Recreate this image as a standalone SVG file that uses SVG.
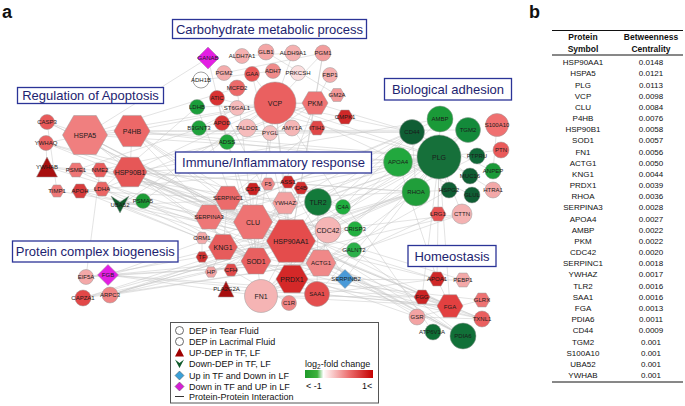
<svg xmlns="http://www.w3.org/2000/svg" xmlns:xlink="http://www.w3.org/1999/xlink" width="685" height="406" viewBox="0 0 685 406">
<defs>
<polygon id="hx" points="-1,0 -0.5,-0.866 0.5,-0.866 1,0 0.5,0.866 -0.5,0.866" vector-effect="non-scaling-stroke"/>
<linearGradient id="fc" x1="0" y1="0" x2="1" y2="0">
<stop offset="0" stop-color="#1f9a2a"/>
<stop offset="0.18" stop-color="#3cb13c"/>
<stop offset="0.27" stop-color="#ffffff"/>
<stop offset="0.33" stop-color="#fde6e6"/>
<stop offset="0.65" stop-color="#ec6d6d"/>
<stop offset="1" stop-color="#c40000"/>
</linearGradient>
</defs>
<style>
.e line{stroke:#c6c6c6;stroke-width:0.5}
.n{stroke:#9a9a9a;stroke-width:0.5}
text{font-family:"Liberation Sans",Arial,sans-serif}
.l{font-size:6px;fill:#1a1a1a;text-anchor:middle}
.b{font-size:7px}
.cat rect{fill:#fff;stroke:#2b3497;stroke-width:1.3}
.cat text{font-size:13px;fill:#1d2470;text-anchor:middle}
.leg text{font-size:9px;fill:#111}
.tb text{font-size:8px;fill:#111;text-anchor:middle}
.tb .h{font-size:8.5px;font-weight:bold}
.tb line{stroke:#111;stroke-width:1}
</style>
<rect width="685" height="406" fill="#fff"/>
<text x="2" y="18" font-size="18" font-weight="bold" fill="#111">a</text>
<text x="529" y="18" font-size="18" font-weight="bold" fill="#111">b</text>

<g id="edges" class="e">
<line x1="291" y1="241" x2="85" y2="135"/><line x1="291" y1="241" x2="130" y2="172"/><line x1="291" y1="241" x2="132" y2="131"/><line x1="291" y1="241" x2="275" y2="103"/><line x1="291" y1="241" x2="315" y2="103"/><line x1="291" y1="241" x2="253" y2="222"/><line x1="291" y1="241" x2="256" y2="261"/><line x1="291" y1="241" x2="292" y2="279"/><line x1="291" y1="241" x2="321" y2="263"/><line x1="291" y1="241" x2="328" y2="230"/><line x1="291" y1="241" x2="318" y2="202"/><line x1="291" y1="241" x2="285" y2="203"/><line x1="291" y1="241" x2="47" y2="167"/><line x1="291" y1="241" x2="46" y2="143"/><line x1="291" y1="241" x2="439" y2="157"/><line x1="291" y1="241" x2="416" y2="192"/><line x1="291" y1="241" x2="412" y2="132"/><line x1="291" y1="241" x2="450" y2="306"/><line x1="291" y1="241" x2="463" y2="336"/><line x1="291" y1="241" x2="261" y2="296"/><line x1="291" y1="241" x2="223" y2="247"/><line x1="291" y1="241" x2="47" y2="122"/><line x1="291" y1="241" x2="120" y2="205"/><line x1="291" y1="241" x2="482" y2="319"/><line x1="291" y1="241" x2="417" y2="317"/><line x1="291" y1="241" x2="468" y2="130"/><line x1="291" y1="241" x2="110" y2="295"/><line x1="291" y1="241" x2="86" y2="277"/><line x1="291" y1="241" x2="217" y2="98"/><line x1="291" y1="241" x2="100" y2="170"/>
<line x1="85" y1="135" x2="132" y2="131"/><line x1="85" y1="135" x2="130" y2="172"/><line x1="85" y1="135" x2="275" y2="103"/><line x1="85" y1="135" x2="253" y2="222"/><line x1="85" y1="135" x2="463" y2="336"/><line x1="85" y1="135" x2="412" y2="132"/><line x1="85" y1="135" x2="439" y2="157"/><line x1="85" y1="135" x2="47" y2="122"/><line x1="85" y1="135" x2="46" y2="143"/><line x1="85" y1="135" x2="237" y2="88"/><line x1="85" y1="135" x2="208" y2="58"/><line x1="85" y1="135" x2="256" y2="261"/>
<line x1="132" y1="131" x2="130" y2="172"/><line x1="132" y1="131" x2="275" y2="103"/><line x1="132" y1="131" x2="463" y2="336"/><line x1="132" y1="131" x2="398" y2="162"/><line x1="132" y1="131" x2="468" y2="130"/><line x1="130" y1="172" x2="275" y2="103"/><line x1="130" y1="172" x2="253" y2="222"/><line x1="130" y1="172" x2="440" y2="119"/><line x1="130" y1="172" x2="463" y2="336"/><line x1="130" y1="172" x2="439" y2="157"/>
<line x1="439" y1="157" x2="261" y2="296"/><line x1="439" y1="157" x2="223" y2="247"/><line x1="439" y1="157" x2="228" y2="198"/><line x1="439" y1="157" x2="450" y2="306"/><line x1="439" y1="157" x2="422" y2="297"/><line x1="439" y1="157" x2="398" y2="162"/><line x1="439" y1="157" x2="440" y2="119"/><line x1="439" y1="157" x2="437" y2="279"/><line x1="439" y1="157" x2="209" y2="217"/><line x1="439" y1="157" x2="449" y2="190"/><line x1="439" y1="157" x2="412" y2="132"/><line x1="439" y1="157" x2="416" y2="192"/><line x1="439" y1="157" x2="317" y2="294"/><line x1="439" y1="157" x2="253" y2="222"/><line x1="439" y1="157" x2="345" y2="279"/><line x1="439" y1="157" x2="268" y2="184"/><line x1="439" y1="157" x2="211" y2="272"/><line x1="439" y1="157" x2="438" y2="214"/><line x1="439" y1="157" x2="493" y2="190"/><line x1="439" y1="157" x2="501" y2="150"/><line x1="439" y1="157" x2="468" y2="130"/><line x1="439" y1="157" x2="462" y2="214"/><line x1="439" y1="157" x2="108" y2="275"/><line x1="439" y1="157" x2="80" y2="191"/>
<line x1="275" y1="103" x2="315" y2="103"/><line x1="275" y1="103" x2="120" y2="205"/><line x1="275" y1="103" x2="143" y2="201"/><line x1="275" y1="103" x2="76" y2="170"/><line x1="275" y1="103" x2="293" y2="53"/><line x1="275" y1="103" x2="323" y2="53"/><line x1="275" y1="103" x2="253" y2="222"/><line x1="275" y1="103" x2="256" y2="261"/><line x1="275" y1="103" x2="285" y2="203"/><line x1="275" y1="103" x2="472" y2="195"/><line x1="275" y1="103" x2="433" y2="332"/>
<line x1="253" y1="222" x2="209" y2="217"/><line x1="253" y1="222" x2="223" y2="247"/><line x1="253" y1="222" x2="256" y2="261"/><line x1="253" y1="222" x2="398" y2="162"/><line x1="253" y1="222" x2="437" y2="279"/><line x1="253" y1="222" x2="412" y2="132"/><line x1="253" y1="222" x2="261" y2="296"/><line x1="253" y1="222" x2="317" y2="294"/><line x1="253" y1="222" x2="253" y2="189"/><line x1="253" y1="222" x2="222" y2="123"/>
<line x1="256" y1="261" x2="292" y2="279"/><line x1="256" y1="261" x2="83" y2="298"/><line x1="256" y1="261" x2="417" y2="317"/><line x1="256" y1="261" x2="482" y2="319"/><line x1="256" y1="261" x2="86" y2="277"/>
<line x1="292" y1="279" x2="482" y2="319"/><line x1="292" y1="279" x2="482" y2="300"/><line x1="292" y1="279" x2="463" y2="280"/>
<line x1="321" y1="263" x2="328" y2="230"/><line x1="321" y1="263" x2="110" y2="295"/><line x1="321" y1="263" x2="83" y2="298"/><line x1="321" y1="263" x2="462" y2="214"/><line x1="321" y1="263" x2="416" y2="192"/><line x1="321" y1="263" x2="108" y2="275"/>
<line x1="328" y1="230" x2="416" y2="192"/><line x1="328" y1="230" x2="462" y2="214"/><line x1="328" y1="230" x2="110" y2="295"/><line x1="328" y1="230" x2="477" y2="156"/>
<line x1="416" y1="192" x2="412" y2="132"/><line x1="416" y1="192" x2="449" y2="190"/><line x1="416" y1="192" x2="110" y2="295"/><line x1="416" y1="192" x2="83" y2="298"/>
<line x1="261" y1="296" x2="412" y2="132"/><line x1="261" y1="296" x2="450" y2="306"/><line x1="261" y1="296" x2="108" y2="275"/><line x1="261" y1="296" x2="422" y2="297"/><line x1="261" y1="296" x2="449" y2="190"/><line x1="261" y1="296" x2="468" y2="130"/><line x1="261" y1="296" x2="438" y2="214"/>
<line x1="450" y1="306" x2="422" y2="297"/><line x1="450" y1="306" x2="108" y2="275"/><line x1="450" y1="306" x2="437" y2="279"/><line x1="108" y1="275" x2="422" y2="297"/>
<line x1="223" y1="247" x2="209" y2="217"/><line x1="223" y1="247" x2="228" y2="198"/><line x1="223" y1="247" x2="211" y2="272"/><line x1="223" y1="247" x2="202" y2="238"/>
<line x1="228" y1="198" x2="209" y2="217"/><line x1="228" y1="198" x2="268" y2="184"/><line x1="228" y1="198" x2="450" y2="306"/><line x1="228" y1="198" x2="317" y2="128"/>
<line x1="398" y1="162" x2="437" y2="279"/><line x1="398" y1="162" x2="440" y2="119"/><line x1="440" y1="119" x2="209" y2="217"/>
<line x1="318" y1="202" x2="412" y2="132"/><line x1="318" y1="202" x2="317" y2="294"/><line x1="318" y1="202" x2="343" y2="207"/><line x1="318" y1="202" x2="355" y2="229"/>
<line x1="285" y1="203" x2="47" y2="167"/><line x1="285" y1="203" x2="46" y2="143"/><line x1="47" y1="167" x2="46" y2="143"/>
<line x1="202" y1="257" x2="211" y2="272"/><line x1="202" y1="257" x2="202" y2="238"/><line x1="343" y1="207" x2="301" y2="188"/><line x1="288" y1="182" x2="345" y2="279"/>
<line x1="417" y1="317" x2="482" y2="319"/><line x1="417" y1="317" x2="482" y2="300"/>
<line x1="315" y1="103" x2="102" y2="189"/><line x1="315" y1="103" x2="197" y2="107"/><line x1="315" y1="103" x2="323" y2="53"/><line x1="315" y1="103" x2="247" y2="128"/><line x1="315" y1="103" x2="270" y2="133"/><line x1="315" y1="103" x2="330" y2="75"/>
<line x1="102" y1="189" x2="197" y2="107"/><line x1="102" y1="189" x2="482" y2="319"/><line x1="217" y1="98" x2="227" y2="142"/><line x1="242" y1="56" x2="293" y2="53"/><line x1="201" y1="80" x2="273" y2="71"/><line x1="224" y1="73" x2="323" y2="53"/>
<line x1="493" y1="171" x2="412" y2="132"/><line x1="470" y1="176" x2="412" y2="132"/><line x1="497" y1="125" x2="493" y2="171"/><line x1="86" y1="277" x2="100" y2="170"/><line x1="354" y1="250" x2="463" y2="336"/><line x1="199" y1="128" x2="237" y2="108"/><line x1="292" y1="128" x2="252" y2="74"/>
<line x1="317" y1="294" x2="437" y2="279"/><line x1="317" y1="294" x2="450" y2="306"/><line x1="231" y1="270" x2="301" y2="188"/><line x1="289" y1="303" x2="231" y2="270"/><line x1="226" y1="290" x2="317" y2="294"/>
<line x1="345" y1="117" x2="100" y2="170"/><line x1="57" y1="191" x2="47" y2="122"/><line x1="80" y1="191" x2="437" y2="279"/><line x1="76" y1="170" x2="143" y2="201"/><line x1="337" y1="95" x2="266" y2="52"/><line x1="100" y1="170" x2="463" y2="280"/>
<line x1="130" y1="172" x2="321" y2="263"/><line x1="130" y1="172" x2="256" y2="261"/><line x1="130" y1="172" x2="416" y2="192"/><line x1="132" y1="131" x2="253" y2="222"/><line x1="132" y1="131" x2="256" y2="261"/><line x1="132" y1="131" x2="412" y2="132"/><line x1="132" y1="131" x2="439" y2="157"/>
<line x1="143" y1="201" x2="256" y2="261"/><line x1="143" y1="201" x2="291" y2="241"/><line x1="120" y1="205" x2="256" y2="261"/><line x1="120" y1="205" x2="321" y2="263"/><line x1="120" y1="205" x2="416" y2="192"/><line x1="102" y1="189" x2="256" y2="261"/><line x1="100" y1="170" x2="328" y2="230"/>
<line x1="80" y1="191" x2="223" y2="247"/><line x1="80" y1="191" x2="228" y2="198"/><line x1="57" y1="191" x2="253" y2="222"/><line x1="47" y1="122" x2="253" y2="222"/><line x1="46" y1="143" x2="328" y2="230"/><line x1="47" y1="167" x2="416" y2="192"/>
<line x1="86" y1="277" x2="321" y2="263"/><line x1="108" y1="275" x2="223" y2="247"/><line x1="110" y1="295" x2="462" y2="214"/><line x1="83" y1="298" x2="328" y2="230"/>
<line x1="275" y1="103" x2="412" y2="132"/><line x1="275" y1="103" x2="439" y2="157"/><line x1="315" y1="103" x2="412" y2="132"/><line x1="315" y1="103" x2="256" y2="261"/><line x1="217" y1="98" x2="439" y2="157"/><line x1="237" y1="88" x2="253" y2="222"/><line x1="252" y1="74" x2="291" y2="241"/><line x1="323" y1="53" x2="291" y2="241"/><line x1="208" y1="58" x2="256" y2="261"/><line x1="197" y1="107" x2="256" y2="261"/>
<line x1="398" y1="162" x2="261" y2="296"/><line x1="412" y1="132" x2="209" y2="217"/><line x1="416" y1="192" x2="223" y2="247"/><line x1="450" y1="306" x2="223" y2="247"/><line x1="463" y1="336" x2="253" y2="222"/><line x1="482" y1="319" x2="130" y2="172"/>
</g>

<g id="categories" class="cat">
<g id="cat-carb"><rect x="172.5" y="19.5" width="194" height="19"/><text x="269.5" y="33.5">Carbohydrate metabolic process</text></g>
<g id="cat-apop"><rect x="17.5" y="87.5" width="146" height="16"/><text x="90.5" y="100">Regulation of Apoptosis</text></g>
<g id="cat-adh"><rect x="384.5" y="78.5" width="127" height="21.5"/><text x="448" y="94">Biological adhesion</text></g>
<g id="cat-imm"><rect x="175.5" y="152" width="196" height="21"/><text x="273.5" y="167">Immune/Inflammatory response</text></g>
<g id="cat-cplx"><rect x="12.5" y="241" width="165.5" height="21"/><text x="95.3" y="256">Protein complex biogenesis</text></g>
<g id="cat-homeo"><rect x="408" y="245.5" width="88" height="21"/><text x="452" y="260.5">Homeostasis</text></g>
</g>

<g id="nodes">
<g id="n-GANAB"><polygon class="n" points="208,47 219,58 208,69 197,58" fill="#e31fe3"/><text class="l" x="208" y="60">GANAB</text></g>
<g id="n-ALDH7A1"><circle class="n" cx="242" cy="56" r="7.5" fill="#f5b0b0"/><text class="l" x="242" y="58">ALDH7A1</text></g>
<g id="n-GLB1"><circle class="n" cx="266" cy="52" r="8" fill="#f4a6a6"/><text class="l" x="266" y="54">GLB1</text></g>
<g id="n-ALDH9A1"><circle class="n" cx="293" cy="53" r="8" fill="#f5b0b0"/><text class="l" x="293" y="55">ALDH9A1</text></g>
<g id="n-PGM1"><circle class="n" cx="323" cy="53" r="8" fill="#f29c9c"/><text class="l" x="323" y="55">PGM1</text></g>
<g id="n-PGM2"><circle class="n" cx="224" cy="73" r="7.5" fill="#f4acac"/><text class="l" x="224" y="75">PGM2</text></g>
<g id="n-GAA"><circle class="n" cx="252" cy="74" r="7.5" fill="#e85555"/><text class="l" x="252" y="76">GAA</text></g>
<g id="n-ADH7"><circle class="n" cx="273" cy="71" r="7.5" fill="#ef8a8a"/><text class="l" x="273" y="73">ADH7</text></g>
<g id="n-PRKCSH"><circle class="n" cx="298" cy="73" r="7.5" fill="#fbdede"/><text class="l" x="298" y="75">PRKCSH</text></g>
<g id="n-FBP1"><circle class="n" cx="330" cy="75" r="7.5" fill="#f5b0b0"/><text class="l" x="330" y="77">FBP1</text></g>
<g id="n-ADH1B"><circle cx="201" cy="80" r="8" fill="#fff" stroke="#888" stroke-width="0.8"/><text class="l" x="201" y="82">ADH1B</text></g>
<g id="n-MCFD2"><circle class="n" cx="237" cy="88" r="8" fill="#ec6a6a"/><text class="l" x="237" y="90">MCFD2</text></g>
<g id="n-VCP"><circle class="n" cx="275" cy="103" r="21" fill="#ea6060"/><text class="l b" x="275" y="105.5">VCP</text></g>
<g id="n-PKM"><use href="#hx" class="n" transform="translate(315 103) scale(13)" fill="#ef7373"/><text class="l b" x="315" y="105.5">PKM</text></g>
<g id="n-GM2A"><use href="#hx" class="n" transform="translate(337 95) scale(7.5)" fill="#f29898"/><text class="l" x="337" y="97">GM2A</text></g>
<g id="n-ATIC"><circle class="n" cx="217" cy="98" r="7.5" fill="#d93232"/><text class="l" x="217" y="100">ATIC</text></g>
<g id="n-LDHB"><circle class="n" cx="197" cy="107" r="7.5" fill="#1a9e3a"/><text class="l" x="197" y="109">LDHB</text></g>
<g id="n-ST6GAL1"><circle class="n" cx="237" cy="108" r="7.5" fill="#f6bcbc"/><text class="l" x="237" y="110">ST6GAL1</text></g>
<g id="n-CMPK1"><use href="#hx" class="n" transform="translate(345 117) scale(8)" fill="#cf2828"/><text class="l" x="345" y="119">CMPK1</text></g>
<g id="n-APOD"><circle class="n" cx="222" cy="123" r="7.5" fill="#d83535"/><text class="l" x="222" y="125">APOD</text></g>
<g id="n-B3GNT3"><circle class="n" cx="199" cy="128" r="7.5" fill="#1ea23c"/><text class="l" x="199" y="130">B3GNT3</text></g>
<g id="n-TALDO1"><circle class="n" cx="247" cy="128" r="9" fill="#f6bcbc"/><text class="l" x="247" y="130">TALDO1</text></g>
<g id="n-PYGL"><circle class="n" cx="270" cy="133" r="7.5" fill="#f6c2c2"/><text class="l" x="270" y="135">PYGL</text></g>
<g id="n-AMY1A"><circle class="n" cx="292" cy="128" r="8" fill="#f5b6b6"/><text class="l" x="292" y="130">AMY1A</text></g>
<g id="n-ITIH"><use href="#hx" class="n" transform="translate(317 128) scale(8)" fill="#e04848"/><text class="l" x="317" y="130">ITIH1</text></g>
<g id="n-ADSS"><circle class="n" cx="227" cy="142" r="7.5" fill="#1fa83c"/><text class="l" x="227" y="144">ADSS</text></g>

<g id="n-CASP3"><circle class="n" cx="47" cy="122" r="7.5" fill="#e85a5a"/><text class="l" x="47" y="124">CASP3</text></g>
<g id="n-HSPA5"><use href="#hx" class="n" transform="translate(85 135) scale(22.5)" fill="#f07f7f"/><text class="l b" x="85" y="137.5">HSPA5</text></g>
<g id="n-P4HB"><use href="#hx" class="n" transform="translate(132 131) scale(18)" fill="#ec6868"/><text class="l b" x="132" y="133.5">P4HB</text></g>
<g id="n-YWHAQ"><circle class="n" cx="46" cy="143" r="7.5" fill="#eb6464"/><text class="l" x="46" y="145">YWHAQ</text></g>
<g id="n-YWHAB"><polygon class="n" points="47,157 57.5,177 36.5,177" fill="#a80f0f"/><text class="l" x="47" y="169">YWHAB</text></g>
<g id="n-PSME1"><use href="#hx" class="n" transform="translate(76 170) scale(8)" fill="#ef7676"/><text class="l" x="76" y="172">PSME1</text></g>
<g id="n-NME2"><use href="#hx" class="n" transform="translate(100 170) scale(8)" fill="#e95c5c"/><text class="l" x="100" y="172">NME2</text></g>
<g id="n-HSP90B1"><use href="#hx" class="n" transform="translate(130 172) scale(17)" fill="#e65757"/><text class="l b" x="130" y="174.5">HSP90B1</text></g>
<g id="n-TIMP1"><use href="#hx" class="n" transform="translate(57 191) scale(7)" fill="#ef7878"/><text class="l" x="57" y="193">TIMP1</text></g>
<g id="n-APOH"><use href="#hx" class="n" transform="translate(80 191) scale(8)" fill="#d83c3c"/><text class="l" x="80" y="193">APOH</text></g>
<g id="n-LDHA"><use href="#hx" class="n" transform="translate(102 189) scale(8)" fill="#eb6565"/><text class="l" x="102" y="191">LDHA</text></g>
<g id="n-UBA52"><polygon class="n" points="111,196 120,202 129,196 120,213" fill="#0f5a2a"/><text class="l" x="120" y="207">UBA52</text></g>
<g id="n-PSMA5"><circle class="n" cx="143" cy="201" r="7.5" fill="#1c9c35"/><text class="l" x="143" y="203">PSMA5</text></g>

<g id="n-EIF5A"><circle class="n" cx="86" cy="277" r="7.5" fill="#f4a8a8"/><text class="l" x="86" y="279">EIF5A</text></g>
<g id="n-FGB"><polygon class="n" points="108,264.5 118.5,275 108,285.5 97.5,275" fill="#e31fe3"/><text class="l" x="108" y="277">FGB</text></g>
<g id="n-CAPZA1"><circle class="n" cx="83" cy="298" r="8" fill="#e24848"/><text class="l" x="83" y="300">CAPZA1</text></g>
<g id="n-ARPC3"><circle class="n" cx="110" cy="295" r="8" fill="#f08585"/><text class="l" x="110" y="297">ARPC3</text></g>

<g id="n-F5"><use href="#hx" class="n" transform="translate(268 184) scale(7)" fill="#f08a8a"/><text class="l" x="268" y="186">F5</text></g>
<g id="n-ASS1"><use href="#hx" class="n" transform="translate(288 182) scale(7)" fill="#d12a2a"/><text class="l" x="288" y="184">ASS1</text></g>
<g id="n-CST3"><use href="#hx" class="n" transform="translate(253 189) scale(7)" fill="#cc2222"/><text class="l" x="253" y="191">CST3</text></g>
<g id="n-C4B"><use href="#hx" class="n" transform="translate(301 188) scale(7)" fill="#d42e2e"/><text class="l" x="301" y="190">C4B</text></g>
<g id="n-SERPINC1"><use href="#hx" class="n" transform="translate(228 198) scale(13.5)" fill="#ec6b6b"/><text class="l" x="228" y="200">SERPINC1</text></g>
<g id="n-YWHAZ"><use href="#hx" class="n" transform="translate(285 203) scale(12.5)" fill="#f3a0a0"/><text class="l" x="285" y="205">YWHAZ</text></g>
<g id="n-TLR2"><circle class="n" cx="318" cy="202" r="13.5" fill="#137a3a"/><text class="l b" x="318" y="204.5">TLR2</text></g>
<g id="n-C4A"><circle class="n" cx="343" cy="207" r="7.5" fill="#1fae3e"/><text class="l" x="343" y="209">C4A</text></g>
<g id="n-SERPINA3"><use href="#hx" class="n" transform="translate(209 217) scale(14)" fill="#ee7777"/><text class="l" x="209" y="219">SERPINA3</text></g>
<g id="n-CLU"><use href="#hx" class="n" transform="translate(253 222) scale(19.5)" fill="#ee7373"/><text class="l b" x="253" y="224.5">CLU</text></g>
<g id="n-CDC42"><circle class="n" cx="328" cy="230" r="13" fill="#f5b5b5"/><text class="l b" x="328" y="232.5">CDC42</text></g>
<g id="n-CRISP3"><circle class="n" cx="355" cy="229" r="7.5" fill="#22b040"/><text class="l" x="355" y="231">CRISP3</text></g>
<g id="n-HSP90AA1"><use href="#hx" class="n" transform="translate(291 241) scale(24.5)" fill="#e44c4c"/><text class="l b" x="291" y="243.5">HSP90AA1</text></g>
<g id="n-ORM1"><use href="#hx" class="n" transform="translate(202 238) scale(6.5)" fill="#f4aaaa"/><text class="l" x="202" y="240">ORM1</text></g>
<g id="n-KNG1"><use href="#hx" class="n" transform="translate(223 247) scale(14.5)" fill="#e65c5c"/><text class="l b" x="223" y="249.5">KNG1</text></g>
<g id="n-GALNT2"><circle class="n" cx="354" cy="250" r="7.5" fill="#2bb04a"/><text class="l" x="354" y="252">GALNT2</text></g>
<g id="n-TF"><use href="#hx" class="n" transform="translate(202 257) scale(6)" fill="#d03232"/><text class="l" x="202" y="259">TF</text></g>
<g id="n-SOD1"><use href="#hx" class="n" transform="translate(256 261) scale(15)" fill="#e86060"/><text class="l b" x="256" y="263.5">SOD1</text></g>
<g id="n-ACTG1"><use href="#hx" class="n" transform="translate(321 263) scale(15)" fill="#f08888"/><text class="l" x="321" y="265">ACTG1</text></g>
<g id="n-HP"><use href="#hx" class="n" transform="translate(211 272) scale(6)" fill="#f3a3a3"/><text class="l" x="211" y="274">HP</text></g>
<g id="n-CFH"><use href="#hx" class="n" transform="translate(231 270) scale(7)" fill="#e04a4a"/><text class="l" x="231" y="272">CFH</text></g>
<g id="n-PRDX1"><use href="#hx" class="n" transform="translate(292 279) scale(16)" fill="#d42828"/><text class="l b" x="292" y="281.5">PRDX1</text></g>
<g id="n-SERPINB2"><polygon class="n" points="345,269.5 354.5,279 345,288.5 335.5,279" fill="#4a9ad8"/><text class="l" x="346" y="281">SERPINB2</text></g>
<g id="n-PLA2G2A"><polygon class="n" points="226,281 234,297 218,297" fill="#a80f0f"/><text class="l" x="226.5" y="291">PLA2G2A</text></g>
<g id="n-FN1"><circle class="n" cx="261" cy="296" r="16.5" fill="#f5b4b4"/><text class="l b" x="261" y="298.5">FN1</text></g>
<g id="n-SAA1"><circle class="n" cx="317" cy="294" r="12.5" fill="#e44e4e"/><text class="l" x="317" y="296">SAA1</text></g>
<g id="n-C1R"><circle class="n" cx="289" cy="303" r="7.5" fill="#ef8585"/><text class="l" x="289" y="305">C1R</text></g>

<g id="n-AMBP"><circle class="n" cx="440" cy="119" r="13" fill="#1a9a38"/><text class="l" x="440" y="121">AMBP</text></g>
<g id="n-CD44"><circle class="n" cx="412" cy="132" r="12.5" fill="#0f5e34"/><text class="l" x="412" y="134">CD44</text></g>
<g id="n-TGM2"><circle class="n" cx="468" cy="130" r="12.5" fill="#138a3a"/><text class="l" x="468" y="132">TGM2</text></g>
<g id="n-S100A10"><circle class="n" cx="497" cy="125" r="11.5" fill="#f07070"/><text class="l" x="497" y="127">S100A10</text></g>
<g id="n-PLG"><circle class="n" cx="439" cy="157" r="22" fill="#16703a"/><text class="l b" x="439" y="159.5">PLG</text></g>
<g id="n-APOA4"><circle class="n" cx="398" cy="162" r="14.5" fill="#22a83e"/><text class="l" x="398" y="164">APOA4</text></g>
<g id="n-PTPRU"><circle class="n" cx="477" cy="156" r="8" fill="#106838"/><text class="l" x="477" y="158">PTPRU</text></g>
<g id="n-PTN"><circle class="n" cx="501" cy="150" r="8" fill="#ea5a5a"/><text class="l" x="501" y="152">PTN</text></g>
<g id="n-MUC16"><circle class="n" cx="470" cy="176" r="8" fill="#0f5e34"/><text class="l" x="470" y="178">MUC16</text></g>
<g id="n-ANPEP"><circle class="n" cx="493" cy="171" r="8" fill="#1a9a38"/><text class="l" x="493" y="173">ANPEP</text></g>
<g id="n-RHOA"><circle class="n" cx="416" cy="192" r="14" fill="#209e3a"/><text class="l" x="416" y="194">RHOA</text></g>
<g id="n-HSPG2"><circle class="n" cx="449" cy="190" r="8" fill="#0f5e34"/><text class="l" x="449" y="192">HSPG2</text></g>
<g id="n-GLUL"><circle class="n" cx="472" cy="195" r="8" fill="#0f5e34"/><text class="l" x="472" y="197">GLUL</text></g>
<g id="n-HTRA1"><circle class="n" cx="493" cy="190" r="8" fill="#f3a8a8"/><text class="l" x="493" y="192">HTRA1</text></g>
<g id="n-LRG1"><use href="#hx" class="n" transform="translate(438 214) scale(8)" fill="#e85252"/><text class="l" x="438" y="216">LRG1</text></g>
<g id="n-CTTN"><circle class="n" cx="462" cy="214" r="10" fill="#f4b2b2"/><text class="l" x="462" y="216">CTTN</text></g>

<g id="n-APOA1"><use href="#hx" class="n" transform="translate(437 279) scale(8)" fill="#cf2828"/><text class="l" x="437" y="281">APOA1</text></g>
<g id="n-PEBP1"><use href="#hx" class="n" transform="translate(463 280) scale(8)" fill="#f3a8a8"/><text class="l" x="463" y="282">PEBP1</text></g>
<g id="n-FGG"><use href="#hx" class="n" transform="translate(422 297) scale(8)" fill="#cc2424"/><text class="l" x="422" y="299">FGG</text></g>
<g id="n-FGA"><use href="#hx" class="n" transform="translate(450 306) scale(13)" fill="#e24040"/><text class="l" x="450" y="309" font-size="8.5">FGA</text></g>
<g id="n-GLRX"><use href="#hx" class="n" transform="translate(482 300) scale(8)" fill="#ee7272"/><text class="l" x="482" y="302">GLRX</text></g>
<g id="n-GSR"><circle class="n" cx="417" cy="317" r="8" fill="#f3a3a3"/><text class="l" x="417" y="319">GSR</text></g>
<g id="n-TXNL1"><circle class="n" cx="482" cy="319" r="8" fill="#ea5f5f"/><text class="l" x="482" y="321">TXNL1</text></g>
<g id="n-ATP6V1A"><circle class="n" cx="433" cy="332" r="8" fill="#0f6e35"/><text class="l" x="432" y="334">ATP6V1A</text></g>
<g id="n-PDIA6"><circle class="n" cx="463" cy="336" r="13" fill="#117038"/><text class="l" x="463" y="338">PDIA6</text></g>
</g>

<g id="legend" class="leg">
<rect x="170.5" y="322.5" width="208" height="80.5" fill="#fff" stroke="#555" stroke-width="1"/>
<circle cx="179.5" cy="330.5" r="4" fill="#fff" stroke="#444" stroke-width="0.8"/><text x="189" y="334">DEP in Tear Fluid</text>
<circle cx="179.5" cy="341.5" r="4" fill="#fff" stroke="#444" stroke-width="0.8"/><text x="189" y="345">DEP in Lacrimal Fluid</text>
<polygon points="179.5,348 184,356.5 175,356.5" fill="#a00000"/><text x="189" y="356">UP-DEP in TF, LF</text>
<polygon points="175,359.5 179.5,363 184,359.5 179.5,368" fill="#0f5a2a"/><text x="189" y="367">Down-DEP in TF, LF</text>
<polygon points="179.5,371 184,375.5 179.5,380 175,375.5" fill="#3aa0d8" stroke="#555" stroke-width="0.5"/><text x="189" y="378.5">Up in TF and Down in LF</text>
<polygon points="179.5,382 184,386.5 179.5,391 175,386.5" fill="#d61ed6" stroke="#555" stroke-width="0.5"/><text x="189" y="389.5">Down in TF and UP in LF</text>
<line x1="175" y1="396.5" x2="184" y2="396.5" stroke="#333" stroke-width="1"/><text x="189" y="400">Protein-Protein Interaction</text>
<text x="305" y="367">log<tspan font-size="6.5" dy="2">2</tspan><tspan dy="-2">-fold change</tspan></text>
<rect x="305" y="370" width="68" height="8" fill="url(#fc)"/>
<text x="306" y="389">&lt; -1</text>
<text x="362" y="389">1&lt;</text>
</g>

<g id="table" class="tb">
<line x1="552" y1="30.5" x2="683" y2="30.5"/>
<text class="h" x="583" y="40">Protein</text><text class="h" x="583" y="51.5">Symbol</text>
<text class="h" x="651" y="39.5">Betweenness</text><text class="h" x="651" y="52">Centrality</text>
<line x1="552" y1="55" x2="683" y2="55" stroke-width="0.8"/>
<text x="583" y="65.2">HSP90AA1</text><text x="651" y="65.2">0.0148</text>
<text x="583" y="76.4">HSPA5</text><text x="651" y="76.4">0.0121</text>
<text x="583" y="87.5">PLG</text><text x="651" y="87.5">0.0113</text>
<text x="583" y="98.7">VCP</text><text x="651" y="98.7">0.0098</text>
<text x="583" y="109.9">CLU</text><text x="651" y="109.9">0.0084</text>
<text x="583" y="121.1">P4HB</text><text x="651" y="121.1">0.0076</text>
<text x="583" y="132.2">HSP90B1</text><text x="651" y="132.2">0.0058</text>
<text x="583" y="143.4">SOD1</text><text x="651" y="143.4">0.0057</text>
<text x="583" y="154.6">FN1</text><text x="651" y="154.6">0.0056</text>
<text x="583" y="165.7">ACTG1</text><text x="651" y="165.7">0.0050</text>
<text x="583" y="176.9">KNG1</text><text x="651" y="176.9">0.0044</text>
<text x="583" y="188.1">PRDX1</text><text x="651" y="188.1">0.0039</text>
<text x="583" y="199.2">RHOA</text><text x="651" y="199.2">0.0036</text>
<text x="583" y="210.4">SERPINA3</text><text x="651" y="210.4">0.0028</text>
<text x="583" y="221.6">APOA4</text><text x="651" y="221.6">0.0027</text>
<text x="583" y="232.8">AMBP</text><text x="651" y="232.8">0.0022</text>
<text x="583" y="243.9">PKM</text><text x="651" y="243.9">0.0022</text>
<text x="583" y="255.1">CDC42</text><text x="651" y="255.1">0.0020</text>
<text x="583" y="266.3">SERPINC1</text><text x="651" y="266.3">0.0018</text>
<text x="583" y="277.4">YWHAZ</text><text x="651" y="277.4">0.0017</text>
<text x="583" y="288.6">TLR2</text><text x="651" y="288.6">0.0016</text>
<text x="583" y="299.8">SAA1</text><text x="651" y="299.8">0.0016</text>
<text x="583" y="310.9">FGA</text><text x="651" y="310.9">0.0013</text>
<text x="583" y="322.1">PDIA6</text><text x="651" y="322.1">0.0011</text>
<text x="583" y="333.3">CD44</text><text x="651" y="333.3">0.0009</text>
<text x="583" y="344.5">TGM2</text><text x="651" y="344.5">0.001</text>
<text x="583" y="355.6">S100A10</text><text x="651" y="355.6">0.001</text>
<text x="583" y="366.8">UBA52</text><text x="651" y="366.8">0.001</text>
<text x="583" y="378">YWHAB</text><text x="651" y="378">0.001</text>
<line x1="552" y1="382" x2="683" y2="382"/>
</g>
</svg>
